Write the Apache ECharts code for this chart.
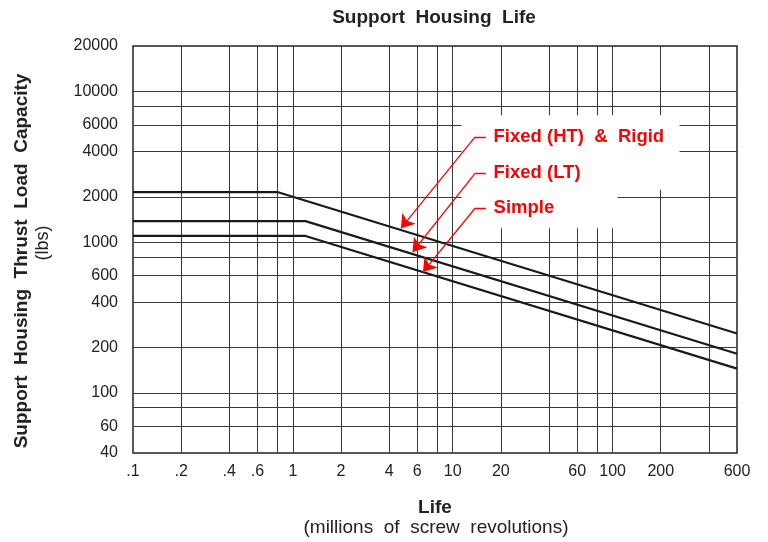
<!DOCTYPE html>
<html>
<head>
<meta charset="utf-8">
<script src="https://cdn.jsdelivr.net/npm/echarts@6/dist/echarts.min.js"></script>
<style>
  html, body { margin: 0; background: #fff; }
  #chart { width: 768px; height: 542px; }
</style>
</head>
<body>
<div id="chart"></div>
<script>
// grid lines and tick labels (life in millions of revs, load in lbs)
const lifeGrid = [0.2, 0.4, 0.6, 0.8, 1, 2, 4, 6, 8, 10, 20, 40, 60, 80, 100, 200, 400];
const lifeLabels = [0.1, 0.2, 0.4, 0.6, 1, 2, 4, 6, 10, 20, 60, 100, 200, 600];
const loadGrid = [60, 80, 100, 200, 400, 600, 800, 1000, 2000, 4000, 6000, 8000, 10000];
const loadLabels = [40, 60, 100, 200, 400, 600, 1000, 2000, 4000, 6000, 10000, 20000];

// capacity curves: flat, then falling
const fixedHT = [[0.1, 2150], [0.8, 2150], [600, 248]];
const fixedLT = [[0.1, 1380], [1.2, 1380], [600, 182]];
const simple = [[0.1, 1100], [1.2, 1100], [600, 145]];

// annotation labels and arrows (data coords): start, elbow, tip
const noteNames = ['Fixed (HT)  &  Rigid', 'Fixed (LT)', 'Simple'];
const noteAt = [[18, 5000], [18, 2860], [18, 1680]];
const arrowPaths = [
  [[16.1, 5000], [13.8, 5000], [4.74, 1236]],
  [[16.1, 2860], [13.8, 2860], [5.61, 861]],
  [[16.1, 1680], [13.8, 1680], [6.51, 634]]
];

const FONT = 'Liberation Sans, Arial, sans-serif';
const chart = echarts.init(document.getElementById('chart'));

const fmtLife = v => (v < 1 ? String(v).replace(/^0/, '') : String(v));

const gridLines = [];
lifeGrid.forEach(v => gridLines.push({ xAxis: v }));
loadGrid.forEach(v => gridLines.push({ yAxis: v }));
const hiddenLine = { color: 'rgba(0,0,0,0)' };
lifeLabels.forEach(v => gridLines.push({
  xAxis: v, lineStyle: hiddenLine,
  label: { show: true, position: 'start', distance: 11, formatter: fmtLife(v) }
}));
loadLabels.forEach(v => gridLines.push({
  yAxis: v, lineStyle: hiddenLine,
  label: { show: true, position: 'start', distance: 15, formatter: String(v) }
}));

const curveStyle = { color: '#1a1a1a', width: 2.2 };
const txt = (text, x, y, font, rot) => ({
  type: 'text', x, y, rotation: rot || 0, silent: true,
  style: { text, fill: '#222', font: font + ' ' + FONT, textAlign: 'center', textVerticalAlign: 'middle' }
});

const option = {
  animation: false,
  backgroundColor: '#fff',
  textStyle: { fontFamily: FONT },
  grid: {
    left: 133, right: 31, top: 46, bottom: 89,
    show: true, borderColor: '#222', borderWidth: 1.5
  },
  xAxis: {
    type: 'log', logBase: 10, min: 0.1, max: 600,
    axisLine: { show: false }, axisTick: { show: false },
    axisLabel: { show: false }, splitLine: { show: false }
  },
  yAxis: {
    type: 'log', logBase: 10, min: 40, max: 20000,
    axisLine: { show: false }, axisTick: { show: false },
    axisLabel: { show: false }, splitLine: { show: false }
  },
  graphic: [
    txt('Support  Housing  Life', 434, 18, 'bold 19px'),
    txt('Support  Housing  Thrust  Load  Capacity', 22, 261, 'bold 19px', Math.PI / 2),
    txt('(lbs)', 43, 243, '18px', Math.PI / 2),
    txt('Life', 435, 508, 'bold 19px'),
    txt('(millions  of  screw  revolutions)', 436, 528, '19px')
  ],
  series: [
    {
      name: 'notes', type: 'scatter', z: 3, symbolSize: 0, silent: true,
      itemStyle: { opacity: 1 },
      data: noteAt.map((p, i) => ({ value: p, name: noteNames[i] })),
      label: {
        show: true, position: 'right', distance: 0, offset: [-32, 0],
        formatter: '{b}', color: '#ff0000', fontSize: 18.5, fontWeight: 'bold',
        fontFamily: FONT, backgroundColor: '#fff', align: 'left', opacity: 1
      },
      markLine: {
        z: 1, silent: true, symbol: 'none', animation: false,
        lineStyle: { color: '#3a3a3a', width: 1, type: 'solid' },
        label: { show: false, color: '#222', fontSize: 16, fontFamily: FONT },
        emphasis: { disabled: true },
        data: gridLines
      }
    },
    { name: 'Fixed (HT) & Rigid', type: 'line', z: 4, showSymbol: false, lineStyle: curveStyle, data: fixedHT },
    { name: 'Fixed (LT)', type: 'line', z: 4, showSymbol: false, lineStyle: curveStyle, data: fixedLT },
    { name: 'Simple', type: 'line', z: 4, showSymbol: false, lineStyle: curveStyle, data: simple },
    {
      name: 'arrow stubs', type: 'lines', coordinateSystem: 'cartesian2d', z: 6,
      symbol: 'none', silent: true,
      lineStyle: { color: '#ff0000', width: 1.3, opacity: 1, curveness: 0 },
      data: arrowPaths.map(c => ({ coords: [c[0], c[1]] }))
    },
    {
      name: 'arrows', type: 'lines', coordinateSystem: 'cartesian2d', z: 6,
      symbol: ['none', 'arrow'], symbolSize: 13, silent: true,
      lineStyle: { color: '#ff0000', width: 1.3, opacity: 1, curveness: 0 },
      data: arrowPaths.map(c => ({ coords: [c[1], c[2]] }))
    }
  ]
};

// per-label white box sizes
const boxPad = [[12, 0, 12, 32], [7, 0, 7, 32], [10, 0, 11, 32]];
const boxWidth = [186, 186, 124];
option.series[0].data.forEach((d, i) => {
  d.label = { padding: boxPad[i], width: boxWidth[i] };
});

chart.setOption(option);
</script>
</body>
</html>
